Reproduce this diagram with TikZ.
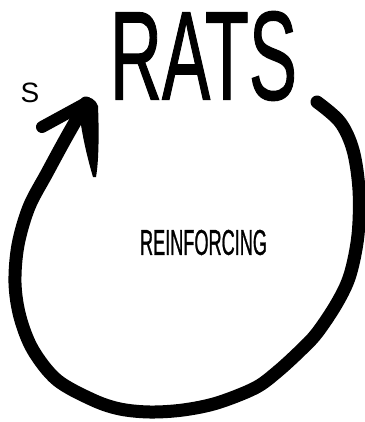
\documentclass[tikz,border=0pt]{standalone}
\usepackage{fontspec}
\setmainfont{Liberation Sans}
\newfontfamily\condfont[FakeBold=1.2]{Liberation Sans}
\usepackage{graphicx}
\begin{document}
\begin{tikzpicture}[x=1pt,y=-1pt,
  loopline/.style={line width=13pt, line cap=round, line join=round},
  barb/.style={line width=12pt, line cap=round},
  label/.style={inner sep=0pt, outer sep=0pt}]
\useasboundingbox (0,0) rectangle (364,422);
\fill[white] (0,0) rectangle (364,422);
\node[label] (rats) at (203.5,56) {\resizebox{187pt}{88pt}{\condfont RATS}};
\node[label] (reinf) at (203.5,242.5) {\resizebox{127pt}{25pt}{\condfont REINFORCING}};
\node[label] (s) at (30,93) {\fontsize{28}{28}\selectfont S};
\coordinate (loopstart) at (317,102);
\coordinate (looptip) at (86,103);
\draw[loopline] plot[smooth, tension=0.55] coordinates {
  (loopstart) (340,122) (353,150) (359,190) (358,235) (350,275) (337,303)
  (317,333) (300,351) (277,372) (255,388) (217,403) (183,410) (150,412)
  (120,409) (93,400) (57,380) (33,350) (20,317) (15,283) (18,245) (29,207)
  (47,173) (66,138) (looptip)};
\draw[barb] (looptip) -- (42,127);
\fill (84,97) .. controls (90,96) and (96,100) .. (98,106)
  .. controls (99,130) and (99,160) .. (96,177)
  -- (93,177) .. controls (88,160) and (83,140) .. (80,118) -- cycle;
\end{tikzpicture}
\end{document}
